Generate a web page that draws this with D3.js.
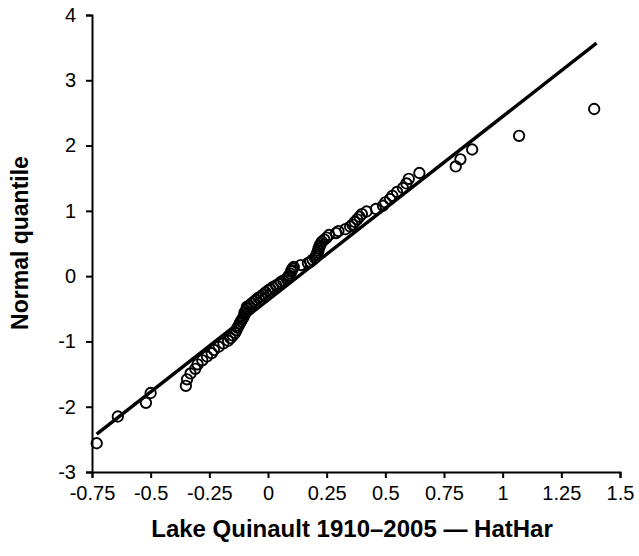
<!DOCTYPE html>
<html>
<head>
<meta charset="utf-8">
<script src="https://cdn.jsdelivr.net/npm/d3@7"></script>
<style>
  body { margin: 0; background: #fff; }
  text { font-family: Arial, "Liberation Sans", sans-serif; fill: #000; }
</style>
</head>
<body>
<div id="chart"></div>
<script>
var lakeValues = [
  -0.73, -0.64, -0.52, -0.50, -0.35, -0.345, -0.33, -0.31, -0.30, -0.28,
  -0.26, -0.24, -0.23, -0.21, -0.19, -0.17, -0.16, -0.15, -0.14, -0.135,
  -0.13, -0.125, -0.12, -0.115, -0.11, -0.105, -0.10, -0.10, -0.095, -0.09,
  -0.09, -0.08, -0.07, -0.06, -0.05, -0.04, -0.03, -0.02, -0.01, 0.00,
  0.01, 0.02, 0.035, 0.045, 0.055, 0.065, 0.08, 0.085,
  0.09, 0.095, 0.10, 0.10, 0.105, 0.11, 0.14, 0.17, 0.18, 0.19,
  0.20, 0.205, 0.21, 0.21, 0.215, 0.215, 0.22, 0.22, 0.225, 0.23,
  0.24, 0.25, 0.26, 0.29, 0.30, 0.33, 0.35, 0.36, 0.37, 0.38,
  0.39, 0.40, 0.42, 0.46, 0.49, 0.50, 0.52, 0.53, 0.55, 0.575,
  0.59, 0.60, 0.645, 0.80, 0.82, 0.87, 1.07, 1.39
];
// matching normal quantiles
var normalQuantiles = [
  -2.56, -2.15, -1.94, -1.79, -1.68, -1.58, -1.49, -1.42, -1.35, -1.29,
  -1.23, -1.18, -1.13, -1.08, -1.03, -0.99, -0.95, -0.91, -0.87, -0.83,
  -0.79, -0.76, -0.72, -0.69, -0.66, -0.63, -0.59, -0.56, -0.53, -0.50,
  -0.47, -0.45, -0.42, -0.39, -0.36, -0.33, -0.31, -0.28, -0.25, -0.22,
  -0.20, -0.17, -0.14, -0.12, -0.09, -0.07, -0.04, -0.01,
  0.01, 0.04, 0.07, 0.09, 0.12, 0.14, 0.17, 0.20, 0.22, 0.25,
  0.28, 0.31, 0.33, 0.36, 0.39, 0.42, 0.45, 0.47, 0.50, 0.53,
  0.56, 0.59, 0.63, 0.66, 0.69, 0.72, 0.76, 0.79, 0.83, 0.87,
  0.91, 0.95, 0.99, 1.03, 1.08, 1.13, 1.18, 1.23, 1.29, 1.35,
  1.42, 1.49, 1.58, 1.68, 1.79, 1.94, 2.15, 2.56
];
// reference line end points
var lineX = [-0.73, 1.40];
var lineY = [-2.42, 3.57];

var xTicks = [-0.75, -0.5, -0.25, 0, 0.25, 0.5, 0.75, 1, 1.25, 1.5];
var yTicks = [-3, -2, -1, 0, 1, 2, 3, 4];

var width = 639, height = 556;

var x = d3.scaleLinear().domain([-0.75, 1.5]).range([92, 620]);
var y = d3.scaleLinear().domain([-3, 4]).range([472, 15]);

var svg = d3.select('#chart').append('svg')
  .attr('width', width)
  .attr('height', height);

// points
var pts = lakeValues.map(function (v, i) { return [v, normalQuantiles[i]]; });
svg.append('g')
  .selectAll('circle')
  .data(pts)
  .enter().append('circle')
  .attr('cx', function (d) { return x(d[0]); })
  .attr('cy', function (d) { return y(d[1]); })
  .attr('r', 5.2)
  .attr('fill', 'none')
  .attr('stroke', '#000')
  .attr('stroke-width', 1.9);

// fitted line
svg.append('line')
  .attr('x1', x(lineX[0])).attr('y1', y(lineY[0]))
  .attr('x2', x(lineX[1])).attr('y2', y(lineY[1]))
  .attr('stroke', '#000')
  .attr('stroke-width', 3.4);

// axes
var xAxis = svg.append('g')
  .attr('transform', 'translate(0,' + y(-3) + ')')
  .call(d3.axisBottom(x).tickValues(xTicks).tickSize(6).tickPadding(8)
    .tickFormat(function (d) { return String(d); }));
var yAxis = svg.append('g')
  .attr('transform', 'translate(' + x(-0.75) + ',0)')
  .call(d3.axisLeft(y).tickValues(yTicks).tickSize(6).tickPadding(10)
    .tickFormat(function (d) { return String(d); }));

[xAxis, yAxis].forEach(function (g) {
  g.select('.domain').attr('stroke', '#000').attr('stroke-width', 2);
  g.selectAll('.tick line').attr('stroke', '#000').attr('stroke-width', 2);
  g.selectAll('.tick text')
    .style('font-size', '20px')
    .style('font-family', 'Arial, "Liberation Sans", sans-serif');
});

// axis titles
svg.append('text')
  .attr('x', 352)
  .attr('y', 537)
  .attr('text-anchor', 'middle')
  .style('font-size', '24px')
  .style('font-weight', 'bold')
  .text('Lake Quinault 1910\u20132005 \u2014 HatHar');

svg.append('text')
  .attr('transform', 'translate(28,243) rotate(-90)')
  .attr('text-anchor', 'middle')
  .style('font-size', '23px')
  .style('font-weight', 'bold')
  .text('Normal quantile');
</script>
</body>
</html>
